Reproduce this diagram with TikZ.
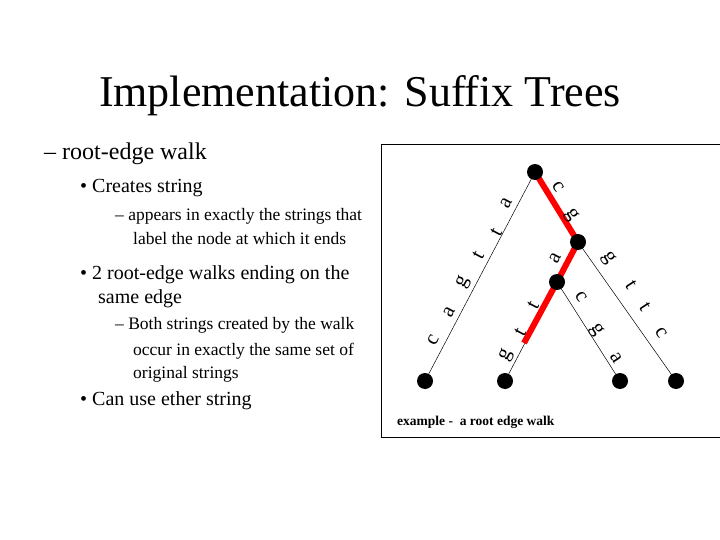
\documentclass[tikz,border=0pt]{standalone}
\usepackage{fontspec}
\setmainfont{Liberation Serif}
\begin{document}
\begin{tikzpicture}[x=1pt,y=-1pt,
  dot/.style={circle,fill=black,inner sep=0pt,minimum size=16pt},
  lbl/.style={font=\fontsize{21}{21}\selectfont,inner sep=0pt},
  txt/.style={anchor=base west,inner sep=0pt}]
\useasboundingbox (0,0) rectangle (720,540);
\node[inner sep=0pt] (title) at (360,96) {\fontsize{44}{44}\selectfont Implementation: Suffix Trees};
\node[txt] (l1) at (44,160) {\fontsize{24}{24}\selectfont – root-edge walk};
\node[txt] (b1) at (80,193) {\fontsize{20}{20}\selectfont • Creates string};
\node[txt] (s1) at (115,221) {\fontsize{17.5}{17.5}\selectfont – appears in exactly the strings that};
\node[txt] (s1b) at (133,244) {\fontsize{17.5}{17.5}\selectfont label the node at which it ends};
\node[txt] (b2) at (80,279) {\fontsize{20}{20}\selectfont • 2 root-edge walks ending on the};
\node[txt] (b2b) at (98,303) {\fontsize{20}{20}\selectfont same edge};
\node[txt] (s2) at (115,329) {\fontsize{17.5}{17.5}\selectfont – Both strings created by the walk};
\node[txt] (s2b) at (133,355) {\fontsize{17.5}{17.5}\selectfont occur in exactly the same set of};
\node[txt] (s2c) at (133,378) {\fontsize{17.5}{17.5}\selectfont original strings};
\node[txt] (b3) at (80,405) {\fontsize{20}{20}\selectfont • Can use ether string};
\draw[line width=0.6pt] (725,144) -- (381,144) -- (381,437) -- (725,437);
\node[txt] (cap) at (397,425) {\fontsize{13.5}{13.5}\selectfont\bfseries example - \ a root edge walk};
\coordinate (root) at (535,172);
\coordinate (n2) at (578,242);
\coordinate (n3) at (557,282);
\coordinate (L1) at (425,381);
\coordinate (L2) at (505,381);
\coordinate (L3) at (620,381);
\coordinate (L4) at (676,381);
\coordinate (re) at (524,343);
\draw[line width=0.5pt] (root)--(L1) (n3)--(L2) (n3)--(L3) (n2)--(L4);
\draw[red,line width=6pt] (root)--(n2)--(n3)--(re);
\foreach \p in {root,n2,n3,L1,L2,L3,L4} \node[dot] (d\p) at (\p) {};
\foreach \ch/\x/\y in {a/506/203,t/496/232,t/478/255,g/463/282,a/449/312,c/433/340,a/555/258,t/533/305,t/520/332,g/506/355}
  \node[lbl,rotate=62] at (\x,\y) {\ch};
\foreach \ch/\x/\y in {c/558/187,g/571/215,c/581/297,g/596/330,a/616/358,g/608/258,t/631/285,t/645/307,c/661/333}
  \node[lbl,rotate=-57] at (\x,\y) {\ch};
\end{tikzpicture}
\end{document}
